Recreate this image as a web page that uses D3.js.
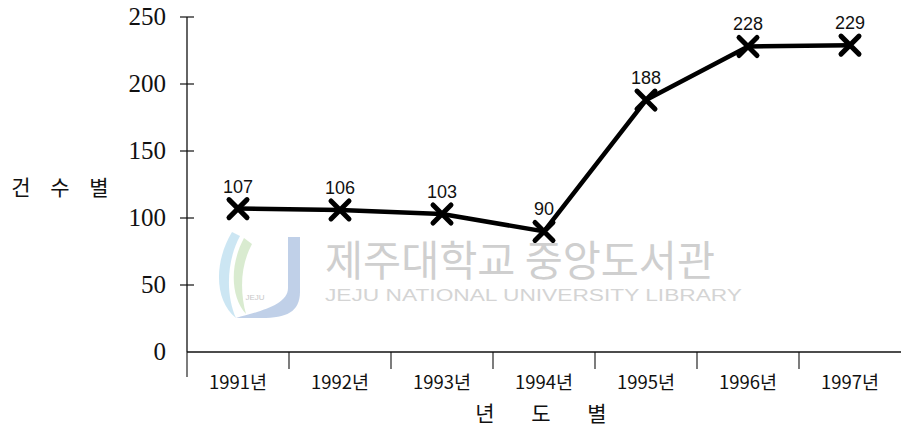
<!DOCTYPE html>
<html>
<head>
<meta charset="utf-8">
<script src="https://cdn.jsdelivr.net/npm/d3@7"></script>
<style>
  body { margin: 0; background: #fff; }
  svg { display: block; }
</style>
</head>
<body>
<div id="chart"></div>
<script>
// 연도별 건수
const years = ["1991", "1992", "1993", "1994", "1995", "1996", "1997"];
const counts = [107, 106, 103, 90, 188, 228, 229];
const yTicks = [0, 50, 100, 150, 200, 250];
const yTitle = ["건", "수", "별"];
const xTitle = ["년", "도", "별"];

const width = 901, height = 430;
const svg = d3.select("#chart").append("svg")
  .attr("width", width).attr("height", height);

const x = d3.scaleBand().domain(years).range([187, 901]).padding(0);
const y = d3.scaleLinear().domain([0, 250]).range([352, 17]);

// 워터마크 (희미하게)
const wm = svg.append("g").attr("class", "watermark");
wm.append("path")
  .attr("d", "M232,232 C214,262 214,300 236,318 C226,296 226,262 240,236 Z")
  .attr("fill", "#bfe0f0").attr("opacity", 0.8);
wm.append("path")
  .attr("d", "M244,238 C230,264 230,296 246,314 C240,292 240,266 252,244 Z")
  .attr("fill", "#cfe6c4").attr("opacity", 0.8);
wm.append("path")
  .attr("d", "M288,237 L300,237 L300,292 C300,312 286,318 262,318 L236,318 C256,312 288,306 288,288 Z")
  .attr("fill", "#b9cbe6").attr("opacity", 0.9);
wm.append("text").attr("x", 255).attr("y", 300).attr("text-anchor", "middle")
  .style("font-family", "'Liberation Sans', sans-serif").style("font-size", "8px")
  .style("fill", "#c8c8c8").text("JEJU");
wm.append("text").attr("x", 325).attr("y", 276)
  .attr("textLength", 390).attr("lengthAdjust", "spacingAndGlyphs")
  .style("font-family", "'Noto Sans CJK KR', sans-serif").style("font-size", "42px")
  .style("fill", "#cfcfcf").text("제주대학교 중앙도서관");
wm.append("text").attr("x", 325).attr("y", 301)
  .attr("textLength", 417).attr("lengthAdjust", "spacingAndGlyphs")
  .style("font-family", "'Liberation Sans', sans-serif").style("font-size", "16px")
  .style("fill", "#d4d4d4").text("JEJU NATIONAL UNIVERSITY LIBRARY");

// 축
svg.append("line")
  .attr("x1", x.range()[0]).attr("x2", x.range()[1])
  .attr("y1", y(0)).attr("y2", y(0))
  .attr("stroke", "#111").attr("stroke-width", 1.3);
svg.append("line")
  .attr("x1", 187).attr("x2", 187)
  .attr("y1", y(250)).attr("y2", y(0))
  .attr("stroke", "#111").attr("stroke-width", 1.3);

// y 눈금
yTicks.forEach((t) => {
  if (t > 0) {
    svg.append("line").attr("x1", 180).attr("x2", 194)
      .attr("y1", y(t)).attr("y2", y(t))
      .attr("stroke", "#111").attr("stroke-width", 1.2);
  }
  svg.append("text")
    .attr("x", 166).attr("y", y(t) + 8)
    .attr("text-anchor", "end")
    .style("font-family", "'Liberation Serif', 'Times New Roman', serif")
    .style("font-size", "25px").style("fill", "#111")
    .text(t);
});

// x 눈금 (구간 경계)
years.forEach((yr, i) => {
  const bx = x(yr);
  svg.append("line").attr("x1", bx).attr("x2", bx)
    .attr("y1", y(0)).attr("y2", y(0) + (i === 0 ? 25 : 17))
    .attr("stroke", "#111").attr("stroke-width", 1.1);
  svg.append("text")
    .attr("x", bx + x.bandwidth() / 2).attr("y", 389)
    .attr("text-anchor", "middle")
    .attr("textLength", 58).attr("lengthAdjust", "spacingAndGlyphs")
    .style("font-family", "'Noto Sans CJK KR', sans-serif")
    .style("font-size", "18px").style("fill", "#111")
    .text(yr + "년");
});

// 축 제목
yTitle.forEach((c, i) => {
  svg.append("text").attr("x", 21 + i * 39).attr("y", 195)
    .attr("text-anchor", "middle")
    .style("font-family", "'Noto Sans CJK KR', sans-serif")
    .style("font-size", "21px").style("fill", "#111").text(c);
});
xTitle.forEach((c, i) => {
  svg.append("text").attr("x", 485 + i * 56).attr("y", 421)
    .attr("text-anchor", "middle")
    .style("font-family", "'Noto Sans CJK KR', sans-serif")
    .style("font-size", "21px").style("fill", "#111").text(c);
});

// 선
const cx = (d, i) => x(years[i]) + x.bandwidth() / 2;
const line = d3.line().x((d, i) => cx(d, i)).y((d) => y(d));
svg.append("path").datum(counts)
  .attr("d", line)
  .attr("fill", "none").attr("stroke", "#000").attr("stroke-width", 4.5)
  .attr("stroke-linejoin", "round");

// X 마커
const m = 9;
const marks = svg.selectAll("g.mark").data(counts).join("g")
  .attr("class", "mark")
  .attr("transform", (d, i) => `translate(${cx(d, i)},${y(d)})`);
marks.append("path")
  .attr("d", `M${-m},${-m}L${m},${m}M${-m},${m}L${m},${-m}`)
  .attr("stroke", "#000").attr("stroke-width", 5).attr("stroke-linecap", "round");

// 값 라벨
svg.selectAll("text.val").data(counts).join("text")
  .attr("class", "val")
  .attr("x", (d, i) => cx(d, i))
  .attr("y", (d) => y(d) - 16)
  .attr("text-anchor", "middle")
  .style("font-family", "'Liberation Sans', Arial, sans-serif")
  .style("font-size", "18px").style("fill", "#111")
  .text((d) => d);
</script>
</body>
</html>
